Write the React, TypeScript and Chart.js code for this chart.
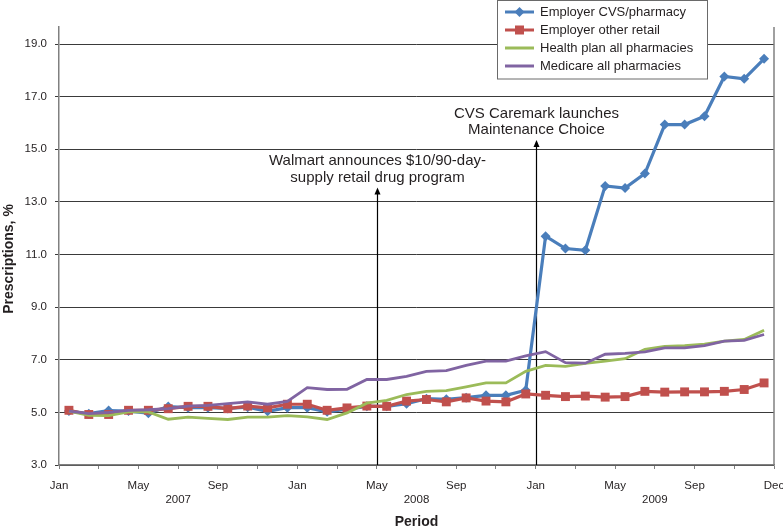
import React, { useEffect, useRef } from 'react';
import { Chart, registerables } from 'chart.js';

Chart.register(...registerables);

// ---- Data (monthly, Jan 2007 – Dec 2009) ----
const monthIndex = Array.from({ length: 36 }, (_, i) => i);

const employerCvs = [
  5.05, 4.95, 5.07, 5.05, 4.97, 5.22, 5.18, 5.18, 5.15, 5.2, 5.04, 5.18,
  5.18, 5.02, 5.12, 5.23, 5.23, 5.33, 5.52, 5.5, 5.56, 5.65, 5.65, 5.84,
  11.7, 11.23, 11.16, 13.61, 13.53, 14.08, 15.94, 15.94, 16.26, 17.77, 17.68, 18.44,
];
const employerOtherRetail = [
  5.08, 4.92, 4.92, 5.08, 5.08, 5.14, 5.23, 5.23, 5.14, 5.24, 5.17, 5.31,
  5.31, 5.08, 5.17, 5.24, 5.23, 5.43, 5.49, 5.4, 5.55, 5.43, 5.4, 5.7,
  5.65, 5.6, 5.62, 5.58, 5.6, 5.8, 5.77, 5.78, 5.78, 5.8, 5.87, 6.12,
];
const healthPlanAll = [
  5.05, 4.89, 4.88, 5.02, 5.02, 4.74, 4.82, 4.77, 4.73, 4.82, 4.82, 4.88,
  4.83, 4.73, 4.98, 5.35, 5.46, 5.68, 5.8, 5.83, 5.97, 6.12, 6.12, 6.56,
  6.79, 6.75, 6.86, 6.95, 7.04, 7.4, 7.51, 7.54, 7.59, 7.71, 7.77, 8.12,
];
const medicareAll = [
  5.05, 4.95, 5.0, 5.08, 5.1, 5.14, 5.24, 5.27, 5.33, 5.4, 5.31, 5.42,
  5.94, 5.87, 5.88, 6.25, 6.25, 6.37, 6.56, 6.59, 6.79, 6.95, 6.95, 7.15,
  7.31, 6.89, 6.87, 7.21, 7.24, 7.3, 7.45, 7.45, 7.54, 7.71, 7.74, 7.96,
];

const seriesNames = [
  'Employer CVS/pharmacy',
  'Employer other retail',
  'Health plan all pharmacies',
  'Medicare all pharmacies',
];

// ---- Axis ticks ----
const yTicks = [3, 5, 7, 9, 11, 13, 15, 17, 19];
const xTickValues = [0, 2, 4, 6, 8, 10, 12, 14, 16, 18, 20, 22, 24, 26, 28, 30, 32, 34, 36];
const monthLabelPositions = [0, 4, 8, 12, 16, 20, 24, 28, 32, 36];
const monthLabelNames = ['Jan', 'May', 'Sep', 'Jan', 'May', 'Sep', 'Jan', 'May', 'Sep', 'Dec'];
const yearLabelPositions = [6, 18, 30];
const yearLabelNames = ['2007', '2008', '2009'];

// ---- Annotations ----
const annotationMonths = [16, 24];
const annotationTipValues = [13.55, 15.35];
const annotationTexts = [
  ['Walmart announces $10/90-day-', 'supply retail drug program'],
  ['CVS Caremark launches', 'Maintenance Choice'],
];

const FONT = "'Liberation Sans', Arial, Helvetica, sans-serif";
const TEXT = '#231f20';
const COLORS = ['#4a7ebb', '#c0504d', '#9bbb59', '#8064a2'];

const toPoints = (vals: number[]) => vals.map((v, i) => ({ x: monthIndex[i] + 0.5, y: v }));

const overlayPlugin = {
  id: 'overlay',
  beforeDatasetsDraw(chart: any) {
    const { ctx, chartArea, scales } = chart;
    const x = scales.x;
    const y = scales.y;
    ctx.save();
    annotationMonths.forEach((m, i) => {
      const px = Math.round(x.getPixelForValue(m)) + 0.5;
      const tip = y.getPixelForValue(annotationTipValues[i]);
      ctx.strokeStyle = '#000';
      ctx.lineWidth = 1.2;
      ctx.beginPath();
      ctx.moveTo(px, chartArea.bottom);
      ctx.lineTo(px, tip + 5);
      ctx.stroke();
      ctx.fillStyle = '#000';
      ctx.beginPath();
      ctx.moveTo(px, tip);
      ctx.lineTo(px - 3, tip + 7);
      ctx.lineTo(px + 3, tip + 7);
      ctx.closePath();
      ctx.fill();
      ctx.fillStyle = TEXT;
      ctx.font = `15px ${FONT}`;
      ctx.textAlign = 'center';
      ctx.textBaseline = 'middle';
      const lines = annotationTexts[i];
      lines.forEach((t, j) => {
        ctx.fillText(t, px, tip - 10 - (lines.length - 1 - j) * 16.7);
      });
    });
    ctx.restore();
  },
  afterDraw(chart: any) {
    const { ctx, chartArea } = chart;
    ctx.save();
    // right border of plot area
    ctx.strokeStyle = '#808080';
    ctx.lineWidth = 1.5;
    ctx.beginPath();
    ctx.moveTo(chartArea.right, chartArea.top);
    ctx.lineTo(chartArea.right, chartArea.bottom);
    ctx.stroke();

    // y axis title
    ctx.save();
    ctx.translate(9, 259);
    ctx.rotate(-Math.PI / 2);
    ctx.fillStyle = TEXT;
    ctx.font = `bold 14px ${FONT}`;
    ctx.textAlign = 'center';
    ctx.textBaseline = 'middle';
    ctx.fillText('Prescriptions, %', 0, 0);
    ctx.restore();

    // legend
    const lx = 497.5;
    const ly = 0.5;
    const lw = 210;
    const lh = 78.5;
    ctx.fillStyle = '#ffffff';
    ctx.fillRect(lx, ly, lw, lh);
    ctx.strokeStyle = '#6a6a6a';
    ctx.lineWidth = 1;
    ctx.strokeRect(lx, ly, lw, lh);
    const rowY = [12, 30, 48, 66];
    seriesNames.forEach((name, i) => {
      const yy = rowY[i];
      ctx.strokeStyle = COLORS[i];
      ctx.lineWidth = 3;
      ctx.beginPath();
      ctx.moveTo(505, yy);
      ctx.lineTo(534, yy);
      ctx.stroke();
      ctx.fillStyle = COLORS[i];
      if (i === 0) {
        ctx.beginPath();
        ctx.moveTo(519.5, yy - 5);
        ctx.lineTo(524.5, yy);
        ctx.lineTo(519.5, yy + 5);
        ctx.lineTo(514.5, yy);
        ctx.closePath();
        ctx.fill();
      } else if (i === 1) {
        ctx.fillRect(515, yy - 4.5, 9, 9);
      }
      ctx.fillStyle = TEXT;
      ctx.font = `13px ${FONT}`;
      ctx.textAlign = 'left';
      ctx.textBaseline = 'middle';
      ctx.fillText(name, 540, yy + 0.5);
    });
    ctx.restore();
  },
};

export default function App() {
  const canvasRef = useRef<HTMLCanvasElement | null>(null);

  useEffect(() => {
    if (!canvasRef.current) return;
    const chart = new Chart(canvasRef.current, {
      type: 'line',
      data: {
        datasets: [
          {
            label: seriesNames[0],
            data: toPoints(employerCvs),
            borderColor: COLORS[0],
            backgroundColor: COLORS[0],
            borderWidth: 3.2,
            pointStyle: 'rectRot',
            pointRadius: 5,
            pointBorderWidth: 0,
            order: 4,
          },
          {
            label: seriesNames[1],
            data: toPoints(employerOtherRetail),
            borderColor: COLORS[1],
            backgroundColor: COLORS[1],
            borderWidth: 3.2,
            pointStyle: 'rect',
            pointRadius: 6.3,
            pointBorderWidth: 0,
            order: 3,
          },
          {
            label: seriesNames[2],
            data: toPoints(healthPlanAll),
            borderColor: COLORS[2],
            backgroundColor: COLORS[2],
            borderWidth: 2.8,
            pointRadius: 0,
            order: 2,
          },
          {
            label: seriesNames[3],
            data: toPoints(medicareAll),
            borderColor: COLORS[3],
            backgroundColor: COLORS[3],
            borderWidth: 2.8,
            pointRadius: 0,
            order: 1,
          },
        ],
      },
      options: {
        responsive: false,
        animation: false,
        events: [],
        layout: { padding: { left: 0, right: 9, top: 27, bottom: 0 } },
        plugins: {
          legend: { display: false },
          tooltip: { enabled: false },
        },
        scales: {
          x: {
            type: 'linear',
            min: 0,
            max: 36,
            afterBuildTicks: (s: any) => {
              s.ticks = xTickValues.map((v) => ({ value: v }));
            },
            afterFit: (s: any) => {
              s.height = 66;
              s.paddingLeft = 0;
              s.paddingRight = 0;
            },
            ticks: {
              autoSkip: false,
              maxRotation: 0,
              minRotation: 0,
              padding: 10,
              color: TEXT,
              font: { family: FONT, size: 11.5 },
              callback: (v: any) => {
                const mi = monthLabelPositions.indexOf(v);
                if (mi >= 0) return monthLabelNames[mi];
                const yi = yearLabelPositions.indexOf(v);
                if (yi >= 0) return ['', yearLabelNames[yi]];
                return '';
              },
            },
            grid: {
              drawOnChartArea: false,
              drawTicks: true,
              tickLength: 4,
              color: '#808080',
              lineWidth: 1,
            },
            border: { color: '#808080', width: 1.5 },
            title: {
              display: true,
              text: 'Period',
              color: TEXT,
              font: { family: FONT, size: 14, weight: 'bold' },
              padding: { top: 0, bottom: 0 },
            },
          },
          y: {
            type: 'linear',
            min: 3,
            max: 19.65,
            afterBuildTicks: (s: any) => {
              s.ticks = yTicks.map((v) => ({ value: v }));
            },
            afterFit: (s: any) => {
              s.width = 59;
            },
            ticks: {
              padding: 8,
              color: TEXT,
              font: { family: FONT, size: 11.5 },
              callback: (v: any) => Number(v).toFixed(1),
            },
            grid: {
              drawTicks: true,
              tickLength: 4,
              color: '#3a3a3a',
              lineWidth: 1,
            },
            border: { color: '#808080', width: 1.5 },
            title: { display: false },
          },
        },
      },
      plugins: [overlayPlugin],
    } as any);
    return () => chart.destroy();
  }, []);

  return (
    <div style={{ position: 'fixed', left: 0, top: 0, width: 783, height: 531, background: '#fff' }}>
      <canvas ref={canvasRef} width={783} height={531} style={{ display: 'block' }} />
    </div>
  );
}
